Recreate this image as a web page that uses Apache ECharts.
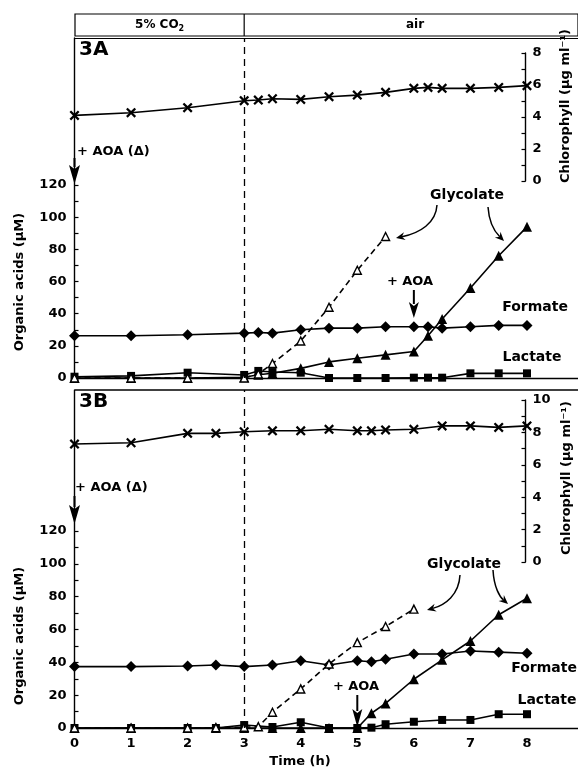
<!DOCTYPE html>
<html><head><meta charset="utf-8">
<script src="https://cdn.jsdelivr.net/npm/echarts@6/dist/echarts.min.js"></script>
<style>html,body{margin:0;padding:0;background:#fff}#c{width:578px;height:772px}</style>
</head><body><div id="c"></div>
<script>
// ---------- DATA ----------
const hourTicks = [0,1,2,3,4,5,6,7,8];
const orgLabelTicks = [0,20,40,60,80,100,120];
const orgMinorTicks = [0,10,20,30,40,50,60,70,80,90,100,110,120];
const chlLabelsA = [0,2,4,6,8];
const chlTicksA  = [0,1,2,3,4,5,6,7,8];
const chlLabelsB = [0,2,4,6,8,10];
const chlTicksB  = [0,1,2,3,4,5,6,7,8,9,10];

// Panel 3A
const timeChlA = [0,1,2,3,3.25,3.5,4,4.5,5,5.5,6,6.25,6.5,7,7.5,8];
const chlA     = [4.1,4.27,4.58,5.02,5.06,5.14,5.1,5.27,5.37,5.54,5.79,5.85,5.79,5.79,5.85,5.96];
const timeA    = [0,1,2,3,3.25,3.5,4,4.5,5,5.5,6,6.25,6.5,7,7.5,8];
const formateA = [26.3,26.3,26.9,27.9,28.3,27.9,30,31,31,31.9,31.9,31.9,31,31.9,32.7,32.7];
const lactateA = [0.8,1.3,3.3,1.9,4.4,3.7,3.3,0,0,0,0.2,0.2,0.2,2.9,2.9,2.9];
const timeGlyFilledA = [0,1,2,3,3.25,3.5,4,4.5,5,5.5,6,6.25,6.5,7,7.5,8];
const glyFilledA     = [0,0,0,0.5,2,3,6,10,12.3,14.4,16.5,26.3,36.7,56,76,94];
const timeGlyOpenA   = [0,1,2,3,3.25,3.5,4,4.5,5,5.5];
const glyOpenA       = [0,0,0,0,2.5,9,23,44,67,88];

// Panel 3B
const timeChlB = [0,1,2,2.5,3,3.5,4,4.5,5,5.25,5.5,6,6.5,7,7.5,8];
const chlB     = [7.28,7.36,7.94,7.94,8.04,8.1,8.1,8.19,8.1,8.1,8.15,8.19,8.4,8.4,8.31,8.4];
const timeB    = [0,1,2,2.5,3,3.5,4,4.5,5,5.25,5.5,6,6.5,7,7.5,8];
const formateB = [37.4,37.4,37.8,38.4,37.4,38.4,41,38.4,41,40.4,41.9,45.1,45.1,46.9,46.2,45.5];
const lactateB = [0,0,0,0,1.8,0.6,3.5,0,0,0.2,2.3,3.8,4.9,4.9,8.4,8.4];
const timeGlyFilledB = [0,1,2,2.5,3,3.5,4,4.5,5,5.25,5.5,6,6.5,7,7.5,8];
const glyFilledB     = [0,0,0,0,0,0,0,0,0,9,15,29.7,41.5,53,69,79];
const timeGlyOpenB   = [0,1,2,2.5,3,3.25,3.5,4,4.5,5,5.5,6];
const glyOpenB       = [0,0,0,0.2,0.5,0.8,9.6,23.8,39,52,61.8,72.4];

// ---------- CHART ----------
const FONT = 'DejaVu Sans';
const PXH = 56.56;              // pixels per hour
const LEFT = 74.5;
const XMAX = 503.5 / PXH;       // organic-acid grids run to the right edge
const CHL_W = 451;              // chlorophyll axis sits at ~x=525
const XMAX_CHL = CHL_W / PXH;
const pairs = (t, v) => t.map((x, i) => [x, v[i]]);
const XSYM = 'path://M0,1.6 L1.6,0 L5,3.4 L8.4,0 L10,1.6 L6.6,5 L10,8.4 L8.4,10 L5,6.6 L1.6,10 L0,8.4 L3.4,5 Z';

const chart = echarts.init(document.getElementById('c'), null, {renderer: 'canvas'});

function lineSeries(name, data, xi, yi, sym, size, opts) {
  opts = opts || {};
  return Object.assign({
    name, type: 'line', data, xAxisIndex: xi, yAxisIndex: yi,
    symbol: sym, symbolSize: size, showSymbol: true, animation: false,
    lineStyle: {color: '#000', width: 1.6, type: opts.dash ? [6, 4] : 'solid'},
    itemStyle: opts.open ? {color: '#fff', borderColor: '#000', borderWidth: 1.4} : {color: '#000'},
    z: opts.z || 3, clip: false
  }, opts.extra || {});
}

const dashedMark = {
  silent: true, symbol: 'none', label: {show: false}, animation: false,
  lineStyle: {type: [7, 5], color: '#000', width: 1.3},
  data: [{xAxis: 3}]
};

function xAx(grid, max, showLine, showLabels) {
  return {
    type: 'value', gridIndex: grid, min: 0, max: max,
    show: showLine,
    axisLine: {show: showLine, onZero: false, lineStyle: {color: '#000', width: 1.4}},
    axisTick: {show: false},
    splitLine: {show: false},
    axisLabel: showLabels ? {
      show: true, customValues: hourTicks, color: '#000', fontFamily: FONT,
      fontWeight: 'bold', fontSize: 13, margin: 9
    } : {show: false}
  };
}
function orgAx(grid, max) {
  return {
    type: 'value', gridIndex: grid, min: 0, max: max, position: 'left',
    axisLine: {show: true, onZero: false, lineStyle: {color: '#000', width: 1.4}},
    axisTick: {show: true, inside: true, length: 4, customValues: orgMinorTicks, lineStyle: {color: '#000', width: 1.2}},
    axisLabel: {show: true, customValues: orgLabelTicks, color: '#000', fontFamily: FONT, fontWeight: 'bold', fontSize: 13, margin: 8},
    splitLine: {show: false}
  };
}
function chlAx(grid, max, labels, ticks) {
  return {
    type: 'value', gridIndex: grid, min: 0, max: max, position: 'right',
    axisLine: {show: true, onZero: false, lineStyle: {color: '#000', width: 1.4}},
    axisTick: {show: true, inside: true, length: 4, customValues: ticks, lineStyle: {color: '#000', width: 1.2}},
    axisLabel: {show: true, customValues: labels, color: '#000', fontFamily: FONT, fontWeight: 'bold', fontSize: 13, margin: 7},
    splitLine: {show: false}
  };
}

const option = {
  backgroundColor: '#fff',
  animation: false,
  grid: [
    {left: LEFT, top: 53, width: CHL_W, height: 128},
    {left: LEFT, top: 38, width: 503.5, height: 340},
    {left: LEFT, top: 400, width: CHL_W, height: 162},
    {left: LEFT, top: 390, width: 503.5, height: 338}
  ],
  xAxis: [xAx(0, XMAX_CHL, false, false), xAx(1, XMAX, true, false), xAx(2, XMAX_CHL, false, false), xAx(3, XMAX, true, true)],
  yAxis: [chlAx(0, 8, chlLabelsA, chlTicksA), orgAx(1, 211.4), chlAx(2, 10, chlLabelsB, chlTicksB), orgAx(3, 205.9)],
  series: [
    lineSeries('Chlorophyll 3A', pairs(timeChlA, chlA), 0, 0, XSYM, 10),
    lineSeries('Glycolate 3A', pairs(timeGlyFilledA, glyFilledA), 1, 1, 'triangle', 10),
    lineSeries('Lactate 3A', pairs(timeA, lactateA), 1, 1, 'rect', 8, {extra: {markLine: dashedMark}}),
    lineSeries('Formate 3A', pairs(timeA, formateA), 1, 1, 'diamond', 11),
    lineSeries('Glycolate +AOA 3A', pairs(timeGlyOpenA, glyOpenA), 1, 1, 'triangle', 8, {dash: true, open: true, z: 4}),
    lineSeries('Chlorophyll 3B', pairs(timeChlB, chlB), 2, 2, XSYM, 10),
    lineSeries('Glycolate 3B', pairs(timeGlyFilledB, glyFilledB), 3, 3, 'triangle', 10),
    lineSeries('Lactate 3B', pairs(timeB, lactateB), 3, 3, 'rect', 8, {extra: {markLine: dashedMark}}),
    lineSeries('Formate 3B', pairs(timeB, formateB), 3, 3, 'diamond', 11),
    lineSeries('Glycolate +AOA 3B', pairs(timeGlyOpenB, glyOpenB), 3, 3, 'triangle', 8, {dash: true, open: true, z: 4})
  ]
};
chart.setOption(option);

// ---------- ANNOTATIONS ----------
const px = (grid, x, y) => chart.convertToPixel({gridIndex: grid}, [x, y]);
const x0 = px(1, 0, 0)[0];
const x3 = px(1, 3, 0)[0];
const x6 = px(1, 6, 0)[0];
const x5 = px(3, 5, 0)[0];

const T = (text, x, y, size, extra) => Object.assign({
  type: 'text', x, y, z: 10,
  style: Object.assign({text, fontFamily: FONT, fontWeight: 'bold', fontSize: size, fill: '#000', align: 'center', verticalAlign: 'middle'}, (extra && extra.style) || {})
}, (extra && extra.el) || {});
const Ln = (x1, y1, x2, y2, w) => ({type: 'line', z: 10, shape: {x1, y1, x2, y2}, style: {stroke: '#000', lineWidth: w || 1.4}});
function downArrow(x, yTop, yTip, hw, hl) {
  return [
    Ln(x, yTop, x, yTip - hl + 2, 2),
    {type: 'polygon', z: 10, shape: {points: [[x - hw, yTip - hl], [x, yTip - hl + 4], [x + hw, yTip - hl], [x, yTip]]}, style: {fill: '#000'}}
  ];
}
function curveArrow(s, c1, c2, e) {
  const dx = e[0] - c2[0], dy = e[1] - c2[1];
  const L = Math.hypot(dx, dy) || 1;
  const ux = dx / L, uy = dy / L, nx = -uy, ny = ux;
  const hl = 9, hw = 4;
  const bx = e[0] - ux * hl, by = e[1] - uy * hl;
  return [
    {type: 'bezierCurve', z: 10, shape: {x1: s[0], y1: s[1], cpx1: c1[0], cpy1: c1[1], cpx2: c2[0], cpy2: c2[1], x2: bx + ux * 3, y2: by + uy * 3}, style: {stroke: '#000', lineWidth: 1.5, fill: null}},
    {type: 'polygon', z: 10, shape: {points: [[e[0], e[1]], [bx + nx * hw, by + ny * hw], [bx + ux * 3, by + uy * 3], [bx - nx * hw, by - ny * hw]]}, style: {fill: '#000'}}
  ];
}

const graphic = [
  // header box
  {type: 'rect', z: 10, shape: {x: 75, y: 14, width: 503, height: 22}, style: {fill: 'none', stroke: '#000', lineWidth: 1.2}},
  Ln(x3, 14, x3, 36, 1.2),
  {type: 'text', z: 10, x: (75 + x3) / 2, y: 25, style: {
    text: '5% CO{s|2}', fontFamily: FONT, fontWeight: 'bold', fontSize: 12, fill: '#000', align: 'center', verticalAlign: 'middle',
    rich: {s: {fontFamily: FONT, fontWeight: 'bold', fontSize: 8, padding: [7, 0, 0, 0]}}
  }},
  T('air', 415, 25, 12),
  // panel top lines
  Ln(75, 38.5, 578, 38.5, 1.1),
  Ln(75, 390, 578, 390, 1.3),
  // panel labels
  T('3A', 79, 50, 20, {style: {align: 'left'}}),
  T('3B', 79, 402, 20, {style: {align: 'left'}}),
  // axis names
  T('Organic acids (µM)', 20, 282, 13, {el: {rotation: Math.PI / 2}}),
  T('Organic acids (µM)', 20, 636, 13, {el: {rotation: Math.PI / 2}}),
  T('Chlorophyll (µg ml⁻¹)', 566, 106, 13, {el: {rotation: Math.PI / 2}}),
  T('Chlorophyll (µg ml⁻¹)', 567, 478, 13, {el: {rotation: Math.PI / 2}}),
  T('Time (h)', 300, 762, 13),
  // 3A annotations
  T('+ AOA (Δ)', 77, 152, 13, {style: {align: 'left'}}),
  ...downArrow(x0, 158, 184, 5.5, 19),
  T('Glycolate', 467, 195, 14),
  ...curveArrow([437, 205], [436, 223], [420, 233], [396, 238]),
  ...curveArrow([488, 207], [489, 222], [495, 232], [504, 241]),
  T('+ AOA', 410, 282, 13),
  ...downArrow(x6, 290, 318, 5, 16),
  T('Formate', 535, 307, 14),
  T('Lactate', 532, 357, 14),
  // 3B annotations
  T('+ AOA (Δ)', 75, 488, 13, {style: {align: 'left'}}),
  ...downArrow(x0, 496, 524, 5.5, 19),
  T('Glycolate', 464, 564, 14),
  ...curveArrow([460, 575], [459, 595], [445, 605], [427, 610]),
  ...curveArrow([493, 570], [494, 588], [500, 597], [508, 604]),
  T('+ AOA', 356, 687, 13),
  ...downArrow(x5, 695, 727, 5, 18),
  T('Formate', 544, 668, 14),
  T('Lactate', 547, 700, 14)
];
chart.setOption({graphic});
</script>
</body></html>
